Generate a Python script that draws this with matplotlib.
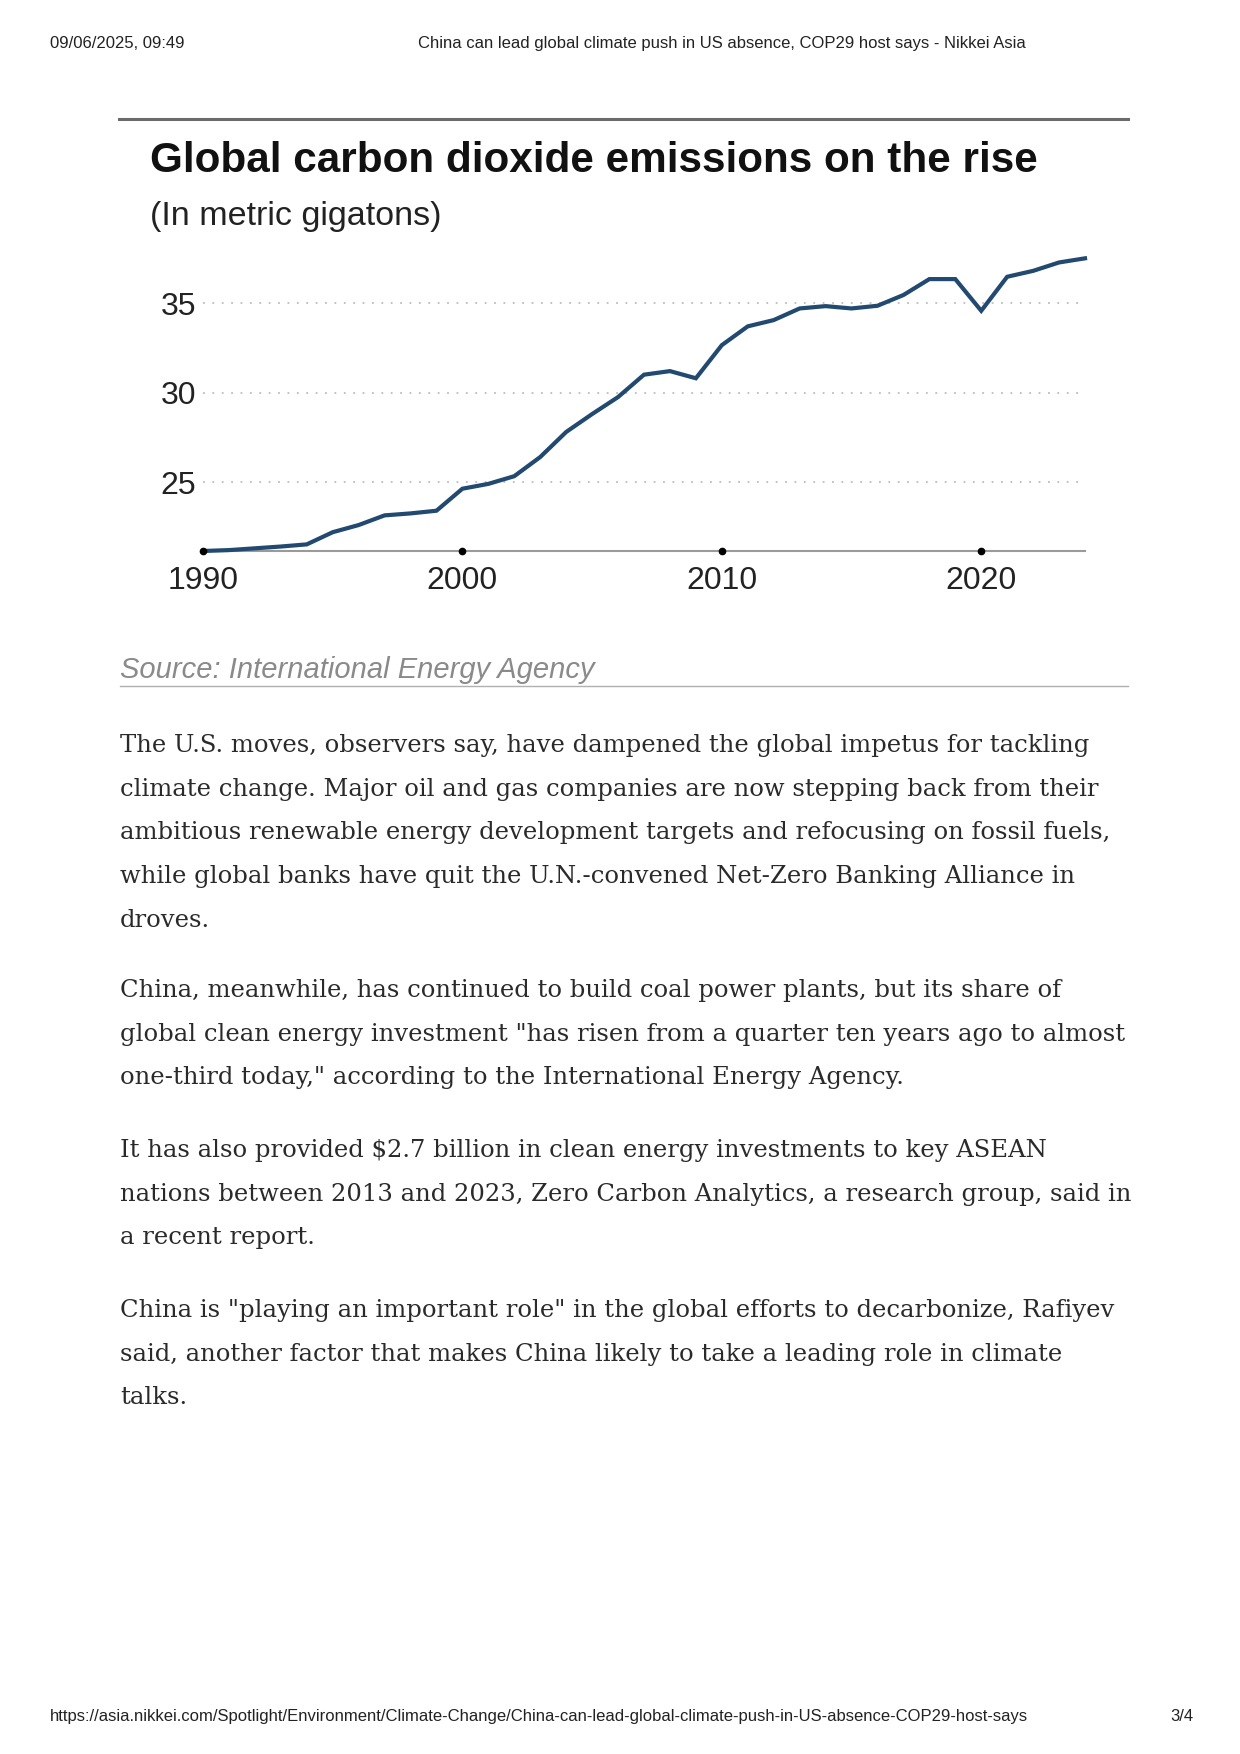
import matplotlib
matplotlib.use("Agg")
import matplotlib.pyplot as plt

# Dados (gigatons de CO2)
anos = list(range(1990, 2025))
emissoes = [21.15, 21.2, 21.3, 21.4, 21.52, 22.2, 22.6, 23.14, 23.25, 23.4,
            24.63, 24.9, 25.33, 26.4, 27.8, 28.8, 29.75, 31.0, 31.2, 30.8,
            32.65, 33.7, 34.05, 34.7, 34.83, 34.7, 34.85, 35.45, 36.34, 36.34,
            34.57, 36.47, 36.8, 37.27, 37.5]
anos_ticks = [1990, 2000, 2010, 2020]
valores_ticks = [25, 30, 35]

titulo = "Global carbon dioxide emissions on the rise"
subtitulo = "(In metric gigatons)"
fonte = "Source: International Energy Agency"

cabecalho_data = "09/06/2025, 09:49"
cabecalho_titulo = "China can lead global climate push in US absence, COP29 host says - Nikkei Asia"
rodape_url = "https://asia.nikkei.com/Spotlight/Environment/Climate-Change/China-can-lead-global-climate-push-in-US-absence-COP29-host-says"
rodape_pagina = "3/4"

paragrafos = [
    ["The U.S. moves, observers say, have dampened the global impetus for tackling",
     "climate change. Major oil and gas companies are now stepping back from their",
     "ambitious renewable energy development targets and refocusing on fossil fuels,",
     "while global banks have quit the U.N.-convened Net-Zero Banking Alliance in",
     "droves."],
    ["China, meanwhile, has continued to build coal power plants, but its share of",
     "global clean energy investment \"has risen from a quarter ten years ago to almost",
     "one-third today,\" according to the International Energy Agency."],
    ["It has also provided $2.7 billion in clean energy investments to key ASEAN",
     "nations between 2013 and 2023, Zero Carbon Analytics, a research group, said in",
     "a recent report."],
    ["China is \"playing an important role\" in the global efforts to decarbonize, Rafiyev",
     "said, another factor that makes China likely to take a leading role in climate",
     "talks."],
]

W, H = 1240, 1754
fig = plt.figure(figsize=(W / 100, H / 100), dpi=100)
fig.patch.set_facecolor("white")

sans = ["Liberation Sans", "DejaVu Sans"]


def fx(px):
    return px / W


def fy(py):
    return 1 - py / H


# Cabeçalho e rodapé da página
fig.text(fx(50), fy(48), cabecalho_data, fontsize=12, family=sans, color="#222222", va="baseline")
fig.text(fx(722), fy(48), cabecalho_titulo, fontsize=12, family=sans, color="#222222",
         va="baseline", ha="center")
fig.text(fx(50), fy(1721), rodape_url, fontsize=12, family=sans, color="#222222", va="baseline")
fig.text(fx(1193), fy(1721), rodape_pagina, fontsize=12, family=sans, color="#222222",
         va="baseline", ha="right")

# Linha superior do gráfico
fig.add_artist(plt.Line2D([fx(119), fx(1128)], [fy(119), fy(119)], color="#6b6b6b", lw=2.2))

fig.text(fx(150), fy(172), titulo, fontsize=30.4, family=sans, weight="bold", color="#111111",
         va="baseline")
fig.text(fx(150), fy(225), subtitulo, fontsize=24.5, family=sans, color="#222222", va="baseline")

# Área do gráfico
x0, x1 = 203, 1085
y_base = 551
y_min, y_max = 21.15, 38.0
px_por_unidade = 17.9
altura = (y_max - y_min) * px_por_unidade
ax = fig.add_axes([fx(x0), fy(y_base), (x1 - x0) / W, altura / H])
ax.set_xlim(1990, 2024)
ax.set_ylim(y_min, y_max)

for v in valores_ticks:
    ax.axhline(v, color="#bdbdbd", lw=1.3, linestyle=(0, (1, 4.2)), zorder=1)

ax.plot(anos, emissoes, color="#22496f", lw=3.0, solid_joinstyle="miter", zorder=3, clip_on=False)

for lado in ["top", "right", "left"]:
    ax.spines[lado].set_visible(False)
ax.spines["bottom"].set_color("#9a9a9a")
ax.spines["bottom"].set_linewidth(1.5)

ax.plot(anos_ticks, [y_min] * len(anos_ticks), "o", color="black", markersize=4.5,
        clip_on=False, zorder=4)

ax.set_xticks(anos_ticks)
ax.set_xticklabels([str(a) for a in anos_ticks])
ax.set_yticks(valores_ticks)
ax.set_yticklabels([str(v) for v in valores_ticks])
ax.tick_params(axis="x", length=0, pad=11, labelsize=23, colors="#222222")
ax.tick_params(axis="y", length=0, pad=5, labelsize=23, colors="#222222")
for lbl in ax.get_xticklabels() + ax.get_yticklabels():
    lbl.set_family(sans)
ax.patch.set_alpha(0)

# Fonte
fig.text(fx(120), fy(678), fonte, fontsize=21, family=sans, style="italic", color="#8a8a8a",
         va="baseline")
fig.add_artist(plt.Line2D([fx(120), fx(1128)], [fy(686), fy(686)], color="#b0b0b0", lw=1.0))

# Texto do artigo
linha = 43.7
inicios = [752, 997, 1157, 1317]
for inicio, par in zip(inicios, paragrafos):
    for i, txt in enumerate(par):
        fig.text(fx(120), fy(inicio + i * linha), txt, fontsize=17.5, family="DejaVu Serif",
                 color="#2a2a2a", va="baseline")

fig.savefig("out.png", dpi=100, facecolor="white")
